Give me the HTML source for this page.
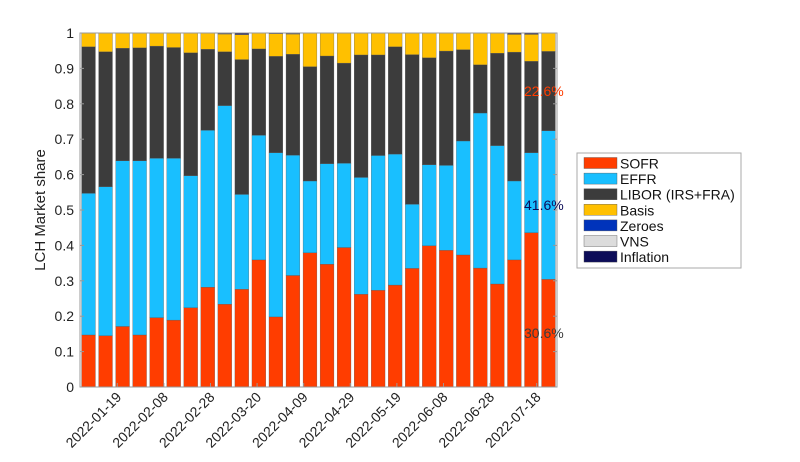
<!DOCTYPE html>
<html><head><meta charset="utf-8"><style>
html,body{margin:0;padding:0;background:#fff;}
svg{display:block;font-family:"Liberation Sans",sans-serif;}
</style></head><body>
<svg id="chart" width="800" height="462" viewBox="0 0 800 462"></svg>
<script>
const categories = ["w01","w02","w03","w04","w05","w06","w07","w08","w09","w10","w11","w12","w13","w14","w15","w16","w17","w18","w19","w20","w21","w22","w23","w24","w25","w26","w27","w28"];
const sofr  = [0.147,0.145,0.171,0.147,0.196,0.189,0.224,0.282,0.234,0.276,0.359,0.198,0.315,0.379,0.347,0.394,0.262,0.273,0.288,0.335,0.399,0.386,0.373,0.336,0.291,0.359,0.436,0.304];
const effr  = [0.400,0.421,0.468,0.492,0.450,0.457,0.373,0.443,0.561,0.268,0.352,0.464,0.340,0.203,0.284,0.238,0.330,0.381,0.370,0.181,0.229,0.240,0.322,0.438,0.391,0.223,0.226,0.420];
const libor = [0.414,0.381,0.318,0.319,0.317,0.313,0.347,0.229,0.152,0.381,0.244,0.272,0.285,0.323,0.304,0.283,0.346,0.284,0.303,0.423,0.302,0.323,0.258,0.136,0.261,0.364,0.258,0.224];
const zeroes = [0,0,0,0,0,0,0,0,0,0,0,0,0,0,0,0,0,0,0,0,0,0,0,0,0,0,0,0];
const vns    = [0,0,0,0,0,0,0,0,0.001,0.001,0,0,0.001,0,0,0,0,0,0,0,0,0,0,0,0,0.001,0.001,0];
const inflation = [0,0,0,0,0,0,0,0,0.002,0.004,0,0.002,0.002,0,0,0.001,0,0,0,0,0,0,0,0,0,0.003,0.003,0];
const yTicks = [0,0.1,0.2,0.3,0.4,0.5,0.6,0.7,0.8,0.9,1];
const yTickLabels = ["0","0.1","0.2","0.3","0.4","0.5","0.6","0.7","0.8","0.9","1"];
const xTickDates = ["2022-01-19","2022-02-08","2022-02-28","2022-03-20","2022-04-09","2022-04-29","2022-05-19","2022-06-08","2022-06-28","2022-07-18"];
const annotations = ["22.6%","41.6%","30.6%"];
const annotationValues = [0.836,0.514,0.152];

const NS="http://www.w3.org/2000/svg";
const svg=document.getElementById('chart');
function mk(tag,attrs,parent){const e=document.createElementNS(NS,tag);for(const k in attrs)e.setAttribute(k,attrs[k]);(parent||svg).appendChild(e);return e;}
const L=80,R=557,T=33,B=387;
const y=v=>B-v*(B-T);
const band=(R-L)/categories.length;
const xc=i=>L+(i+0.5)*band;
const t0=Date.UTC(2022,0,3), pxPerDay=2.33;
const xDate=s=>{const p=s.split('-');return L+(Date.UTC(+p[0],+p[1]-1,+p[2])-t0)/86400000*pxPerDay;};

const series=[["sofr",sofr,"#ff3d00"],["effr",effr,"#19bfff"],["libor",libor,"#3c3c3c"],["basis",null,"#ffc000"],["zeroes",zeroes,"#0033bb"],["vns",vns,"#dcdcdc"],["inflation",inflation,"#0c0c58"]];
const gBars=mk('g',{});


const bw=band-3.2;
categories.forEach((c,i)=>{
  const basis=1-sofr[i]-effr[i]-libor[i]-zeroes[i]-vns[i]-inflation[i];
  let acc=0;
  series.forEach(s=>{
    const v=s[1]?s[1][i]:basis;
    if(v<=0){return;}
    const r=mk('rect',{x:xc(i)-bw/2,y:y(acc+v),width:bw,height:y(acc)-y(acc+v),fill:s[2],stroke:"#555",'stroke-width':0.3},gBars);
    
    
    acc+=v;
  });
});
const box=mk('rect',{x:L,y:T,width:R-L,height:B-T,fill:'none',stroke:'#999','stroke-width':1});


yTicks.forEach((v,i)=>{
  mk('line',{x1:L,x2:L+4,y1:y(v),y2:y(v),stroke:'#999'});
  mk('line',{x1:R,x2:R-4,y1:y(v),y2:y(v),stroke:'#999'});
  const t=mk('text',{x:L-6,y:y(v)+5,'text-anchor':'end','font-size':14,fill:'#222'});
  t.textContent=yTickLabels[i];
  
  
});
xTickDates.forEach(d=>{
  const x=xDate(d);
  mk('line',{x1:x,x2:x,y1:B,y2:B-4,stroke:'#999'});
  const t=mk('text',{x:0,y:0,'text-anchor':'end','font-size':14,fill:'#222',transform:`translate(${x+5},${B+11}) rotate(-45)`});
  t.textContent=d;
  
  
});
const yl=mk('text',{x:0,y:0,'text-anchor':'middle','font-size':15,fill:'#222',transform:'translate(45,210) rotate(-90)'});
yl.textContent="LCH Market share";


const annColors=["#ff3d00","#0c0c58","#3c3c3c"];
annotations.forEach((a,i)=>{
  const t=mk('text',{x:524,y:y(annotationValues[i])+5,'font-size':14,fill:annColors[i]});
  t.textContent=a;
  
  
});
const lg=mk('g',{});


mk('rect',{x:577,y:153,width:164,height:115,fill:'#fff',stroke:'#aaa'},lg);
const names=["SOFR","EFFR","LIBOR (IRS+FRA)","Basis","Zeroes","VNS","Inflation"];
series.forEach((s,i)=>{
  const yy=157.5+i*15.6;
  mk('rect',{x:584,y:yy,width:33,height:11,fill:s[2],stroke:'#555','stroke-width':0.4},lg);
  const t=mk('text',{x:620,y:yy+11,'font-size':14,fill:'#111'},lg);
  t.textContent=names[i];
  
  
});
</script>
</body></html>
